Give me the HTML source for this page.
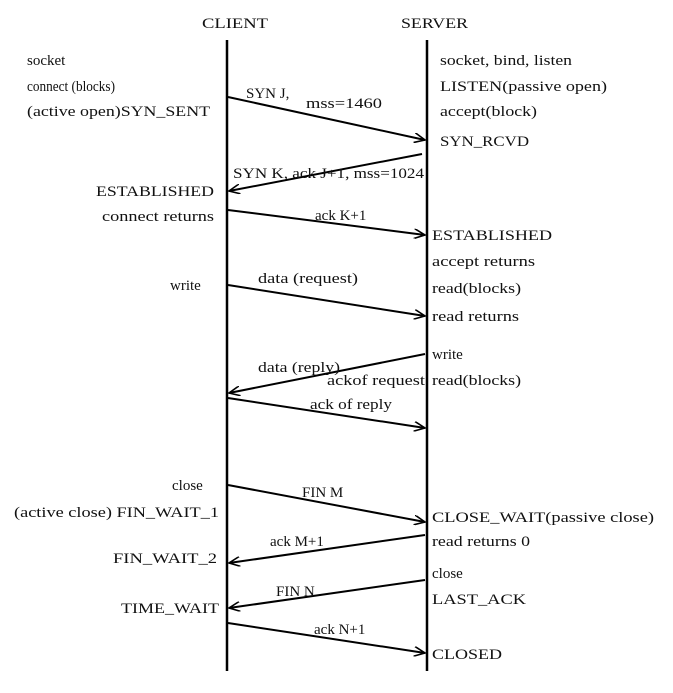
<!DOCTYPE html>
<html><head><meta charset="utf-8"><style>
html,body{margin:0;padding:0;background:#fff;}
svg text{font-family:"Liberation Serif",serif;font-size:15px;fill:#111;}
</style></head><body>
<svg width="673" height="688" viewBox="0 0 673 688" xmlns="http://www.w3.org/2000/svg">
<defs>
<marker id="a" viewBox="0 0 12 10" refX="11" refY="5" markerWidth="12" markerHeight="10" markerUnits="userSpaceOnUse" orient="auto">
<path d="M0,0 L11,5 L0,10" fill="none" stroke="#000" stroke-width="1.6"/>
</marker>
</defs>
<text x="202" y="28" textLength="66" lengthAdjust="spacingAndGlyphs">CLIENT</text>
<text x="401" y="28" textLength="67" lengthAdjust="spacingAndGlyphs">SERVER</text>
<line x1="227" y1="40" x2="227" y2="671" stroke="#000" stroke-width="2.5"/>
<line x1="427" y1="40" x2="427" y2="671" stroke="#000" stroke-width="2.5"/>
<g stroke="#000" stroke-width="2" marker-end="url(#a)">
<line x1="228" y1="97" x2="425" y2="140"/>
<line x1="422" y1="154" x2="229" y2="191"/>
<line x1="228" y1="210" x2="425" y2="235"/>
<line x1="228" y1="285" x2="425" y2="316"/>
<line x1="425" y1="354" x2="229" y2="393"/>
<line x1="228" y1="398" x2="425" y2="428"/>
<line x1="228" y1="485" x2="425" y2="522"/>
<line x1="425" y1="535" x2="229" y2="563"/>
<line x1="425" y1="580" x2="229" y2="608"/>
<line x1="228" y1="623" x2="425" y2="653"/>
</g>
<!-- client side -->
<text x="27" y="65">socket</text>
<text x="27" y="91" textLength="88" lengthAdjust="spacingAndGlyphs">connect (blocks)</text>
<text x="27" y="116" textLength="183" lengthAdjust="spacingAndGlyphs">(active open)SYN_SENT</text>
<text x="96" y="196" textLength="118" lengthAdjust="spacingAndGlyphs">ESTABLISHED</text>
<text x="102" y="221" textLength="112" lengthAdjust="spacingAndGlyphs">connect returns</text>
<text x="170" y="290">write</text>
<text x="172" y="490">close</text>
<text x="14" y="517" textLength="205" lengthAdjust="spacingAndGlyphs">(active close) FIN_WAIT_1</text>
<text x="113" y="563" textLength="104" lengthAdjust="spacingAndGlyphs">FIN_WAIT_2</text>
<text x="121" y="613" textLength="98" lengthAdjust="spacingAndGlyphs">TIME_WAIT</text>
<!-- arrow labels -->
<text x="246" y="98">SYN J,</text>
<text x="306" y="108" textLength="76" lengthAdjust="spacingAndGlyphs">mss=1460</text>
<text x="233" y="178" textLength="191" lengthAdjust="spacingAndGlyphs">SYN K, ack J+1, mss=1024</text>
<text x="315" y="220">ack K+1</text>
<text x="258" y="283" textLength="100" lengthAdjust="spacingAndGlyphs">data (request)</text>
<text x="258" y="372" textLength="82" lengthAdjust="spacingAndGlyphs">data (reply)</text>
<text x="327" y="385" textLength="98" lengthAdjust="spacingAndGlyphs">ackof request</text>
<text x="310" y="409" textLength="82" lengthAdjust="spacingAndGlyphs">ack of reply</text>
<text x="302" y="497">FIN M</text>
<text x="270" y="546">ack M+1</text>
<text x="276" y="596">FIN N</text>
<text x="314" y="634">ack N+1</text>
<!-- server side -->
<text x="440" y="65" textLength="132" lengthAdjust="spacingAndGlyphs">socket, bind, listen</text>
<text x="440" y="91" textLength="167" lengthAdjust="spacingAndGlyphs">LISTEN(passive open)</text>
<text x="440" y="116" textLength="97" lengthAdjust="spacingAndGlyphs">accept(block)</text>
<text x="440" y="146" textLength="89" lengthAdjust="spacingAndGlyphs">SYN_RCVD</text>
<text x="432" y="240" textLength="120" lengthAdjust="spacingAndGlyphs">ESTABLISHED</text>
<text x="432" y="266" textLength="103" lengthAdjust="spacingAndGlyphs">accept returns</text>
<text x="432" y="293" textLength="89" lengthAdjust="spacingAndGlyphs">read(blocks)</text>
<text x="432" y="321" textLength="87" lengthAdjust="spacingAndGlyphs">read returns</text>
<text x="432" y="359">write</text>
<text x="432" y="385" textLength="89" lengthAdjust="spacingAndGlyphs">read(blocks)</text>
<text x="432" y="522" textLength="222" lengthAdjust="spacingAndGlyphs">CLOSE_WAIT(passive close)</text>
<text x="432" y="546" textLength="98" lengthAdjust="spacingAndGlyphs">read returns 0</text>
<text x="432" y="578">close</text>
<text x="432" y="604" textLength="94" lengthAdjust="spacingAndGlyphs">LAST_ACK</text>
<text x="432" y="659" textLength="70" lengthAdjust="spacingAndGlyphs">CLOSED</text>
</svg>
</body></html>
